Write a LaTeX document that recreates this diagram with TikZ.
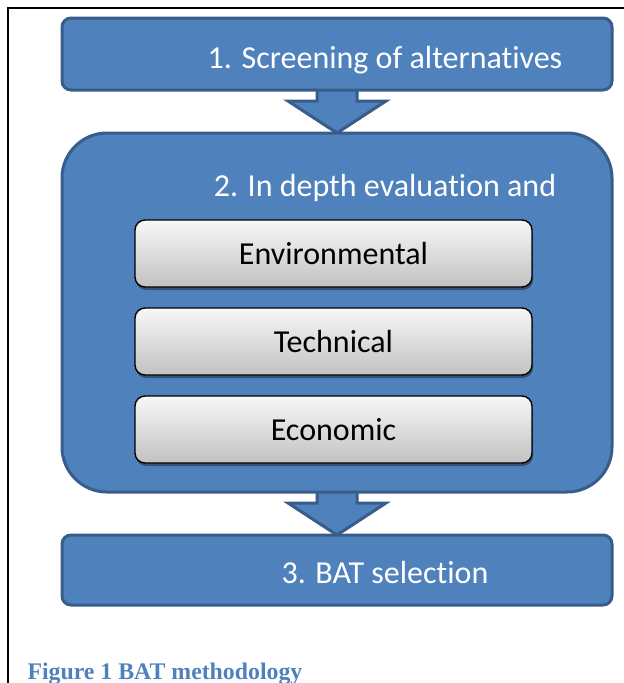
\documentclass[tikz,border=0pt]{standalone}
\usepackage{fontspec}
\setmainfont[Ligatures=NoCommon]{Carlito}
\newfontfamily\captionfont{Liberation Serif}
\usetikzlibrary{positioning,calc,shadows,backgrounds}
\definecolor{batblue}{RGB}{79,129,189}
\definecolor{batedge}{RGB}{56,93,138}

\tikzset{
  stagebox/.style={draw=batedge, line width=3pt, fill=batblue, rounded corners=9pt,
    minimum width=550pt, inner sep=0pt, outer sep=0pt},
  stagetext/.style={anchor=base, text=white, font=\fontsize{32}{38}\selectfont},
  critbox/.style={draw=black, line width=1.4pt, rounded corners=10pt,
    top color=white!94!gray, bottom color=gray!48,
    minimum width=397pt, minimum height=67pt, outer sep=0pt,
    drop shadow={shadow xshift=1pt, shadow yshift=-3pt, opacity=0.35, fill=black},
    font=\fontsize{32}{38}\selectfont},
  flowarrow/.style={draw=batedge, line width=3pt, fill=batblue, line join=miter}
}

\begin{document}
\begin{tikzpicture}[x=1pt, y=-1pt]
  \useasboundingbox (0,0) rectangle (624,683);

  % page frame
  \draw[line width=2pt] (8,683) -- (8,8) -- (624,8);

  % the three stages
  \node[stagebox, minimum height=72pt] (screen) at (337,54) {};
  \node[stagebox, minimum height=359pt, rounded corners=45pt, below=43pt of screen] (evaluation) {};
  \node[stagebox, minimum height=70pt, below=43pt of evaluation] (selection) {};

  \node[stagetext] (screentext) at ($(screen.center)+(48,14)$) {1. Screening of alternatives};
  \node[stagetext] (evaltext) at ($(evaluation.north)+(48,63)$) {2. In depth evaluation and};
  \node[stagetext] (selecttext) at ($(selection.center)+(48,13)$) {3. BAT selection};

  % criteria inside stage 2
  \node[critbox] (env) at (333.5,253.5) {Environmental};
  \node[critbox, below=21pt of env] (tech) {Technical};
  \node[critbox, below=21pt of tech] (econ) {Economic};

  % block arrows between stages
  \begin{pgfonlayer}{background}
    \foreach \from/\to in {screen/evaluation, evaluation/selection}
      \draw[flowarrow] ($(\from.south)+(-20,-3)$) -- ($(\to.north)+(-20,-32)$)
        -- ($(\to.north)+(-49,-32)$) -- (\to.north) -- ($(\to.north)+(49,-32)$)
        -- ($(\to.north)+(20,-32)$) -- ($(\from.south)+(20,-3)$) -- cycle;
  \end{pgfonlayer}

  % caption
  \node[anchor=base west, text=batblue, font=\captionfont\bfseries\fontsize{23.8}{28}\selectfont]
    (caption) at (24,679) {Figure 1 BAT methodology};
\end{tikzpicture}
\end{document}
